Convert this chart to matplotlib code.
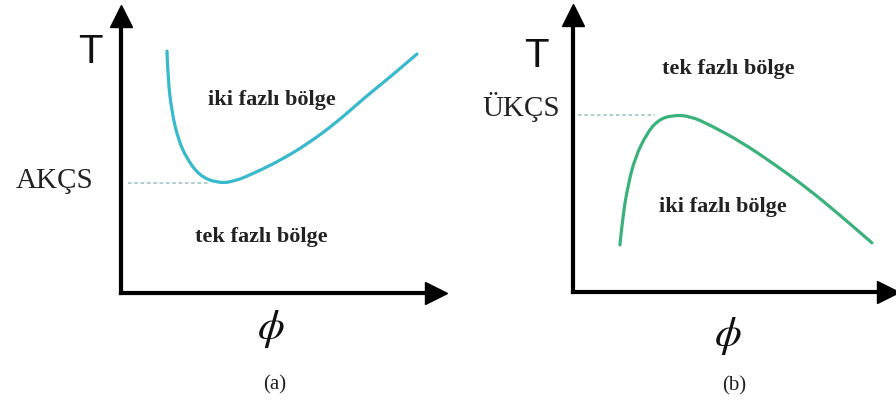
import matplotlib
matplotlib.use("Agg")
import matplotlib.pyplot as plt
from matplotlib.path import Path
from matplotlib.patches import PathPatch

plt.rcParams['mathtext.fontset'] = 'stix'

# egri (a): alt kritik cozelti sicakligi, T - phi
phi_a = [14.1, 14.4, 15.6, 17.5, 20.2, 24.2, 29.4, 34.4, 41.7, 49.7, 58.0, 66.3, 74.2, 82.5, 90.8]
T_a = [83.7, 74.0, 62.6, 53.3, 46.4, 40.5, 38.1, 38.4, 41.9, 46.4, 52.2, 59.2, 67.1, 74.7, 82.7]
akcs_T = 38.1

# egri (b): ust kritik cozelti sicakligi
phi_b = [14.4, 15.3, 16.9, 19.0, 22.7, 26.1, 30.4, 35.9, 42.0, 51.2, 61.3, 71.8, 81.9, 91.7]
T_b = [16.3, 26.6, 37.0, 46.4, 55.0, 59.5, 61.2, 60.9, 57.8, 52.2, 44.6, 36.0, 26.6, 17.0]
ukcs_T = 61.2

serif = 'Liberation Serif'
txt_col = '#222222'

fig = plt.figure(figsize=(8.96, 4.06), dpi=100)
W, H = 896, 406


def smooth_curve(ax, xs, ys, color):
    # noktalar kontrol noktasi, ara orta noktalar egri uzerinde (ikinci derece bezier)
    pts = list(zip(xs, ys))
    verts = [pts[0]]
    codes = [Path.MOVETO]
    for i in range(1, len(pts) - 1):
        mid = ((pts[i][0] + pts[i + 1][0]) / 2, (pts[i][1] + pts[i + 1][1]) / 2)
        verts += [pts[i], mid]
        codes += [Path.CURVE3, Path.CURVE3]
    verts.append(pts[-1])
    codes.append(Path.LINETO)
    ax.add_patch(PathPatch(Path(verts, codes), fill=False, edgecolor=color, lw=2.3,
                           capstyle='round', joinstyle='round', clip_on=False))


def panel(x0, y0):
    # eksen kutusu: orijin (x0, y0) pikselde, 326 x 289 piksel
    ax = fig.add_axes([x0 / W, (H - y0) / H, 326 / W, 289 / H])
    ax.set_xlim(0, 100)
    ax.set_ylim(0, 100)
    ax.axis('off')
    ax.plot([0, 96.5], [0, 0], color='black', lw=3, solid_capstyle='projecting', clip_on=False)
    ax.plot([0, 0], [0, 96], color='black', lw=3, solid_capstyle='projecting', clip_on=False)
    ax.plot(96.5, 0, marker='>', ms=16, color='black', clip_on=False)
    ax.plot(0, 96, marker='^', ms=16, color='black', clip_on=False)
    return ax


ax1 = panel(121, 294)
smooth_curve(ax1, phi_a, T_a, '#38b9cc')
ax1.plot([2, 27], [akcs_T, akcs_T], color='#a9c9cc', lw=1.3, ls=(0, (2, 1.5)))
ax1.text(-9.5, 83.7, 'T', fontsize=29, family='Liberation Sans', ha='center', va='center', color='#111111')
ax1.text(-8.6, 36.7, 'AKÇS', fontsize=21, family=serif, ha='right', va='baseline', color=txt_col)
ax1.text(46.2, 65.4, 'iki fazlı bölge', fontsize=16, family=serif, weight='bold', ha='center', va='baseline', color=txt_col)
ax1.text(42.9, 18.0, 'tek fazlı bölge', fontsize=16, family=serif, weight='bold', ha='center', va='baseline', color=txt_col)
ax1.text(46.0, -12.1, r'$\phi$', fontsize=31, ha='center', va='center', color='#111111')
ax1.text(47.2, -31.5, '(a)', fontsize=15, family=serif, ha='center', va='center', color=txt_col)

ax2 = panel(573, 293)
smooth_curve(ax2, phi_b, T_b, '#3bb27c')
ax2.plot([1.5, 25], [ukcs_T, ukcs_T], color='#a9c9cc', lw=1.3, ls=(0, (2, 1.5)))
ax2.text(-11.3, 82.0, 'T', fontsize=29, family='Liberation Sans', ha='center', va='center', color='#111111')
ax2.text(-4.0, 61.2, 'ÜKÇS', fontsize=21, family=serif, ha='right', va='baseline', color=txt_col)
ax2.text(47.5, 75.8, 'tek fazlı bölge', fontsize=16, family=serif, weight='bold', ha='center', va='baseline', color=txt_col)
ax2.text(45.9, 28.0, 'iki fazlı bölge', fontsize=16, family=serif, weight='bold', ha='center', va='baseline', color=txt_col)
ax2.text(47.5, -14.9, r'$\phi$', fontsize=31, ha='center', va='center', color='#111111')
ax2.text(49.4, -32.2, '(b)', fontsize=15, family=serif, ha='center', va='center', color=txt_col)

fig.savefig('out.png', dpi=100, facecolor='white')
